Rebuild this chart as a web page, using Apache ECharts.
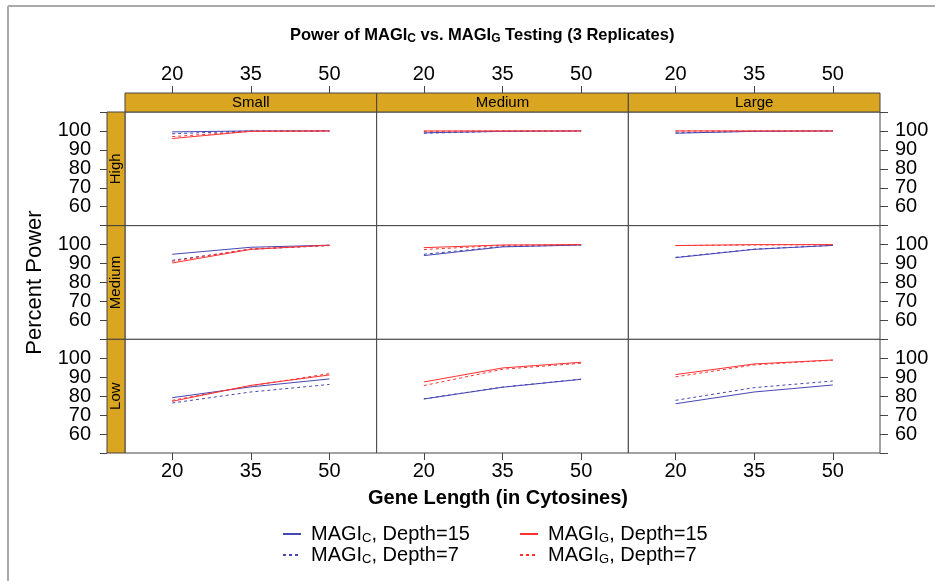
<!DOCTYPE html>
<html>
<head>
<meta charset="utf-8">
<script src="https://cdn.jsdelivr.net/npm/echarts@6/dist/echarts.min.js"></script>
<style>
  html, body { margin: 0; padding: 0; background: #fff; }
  #chart { width: 935px; height: 581px; }
</style>
</head>
<body>
<div id="chart"></div>
<script>
// gene length (x), panel columns (coverage) and rows (methylation level)
var lengths = [20, 35, 50];
var colNames = ['Small', 'Medium', 'Large'];
var rowNames = ['High', 'Medium', 'Low'];
var yTicks = [60, 70, 80, 90, 100];

// percent power, [row][col][length]  rows: High, Medium, Low  cols: Small, Medium, Large
var magiC15 = [
  [[99.5, 100, 100], [99.0, 99.8, 100], [98.8, 99.8, 100]],
  [[94.9, 98.6, 99.7], [94.2, 98.8, 99.8], [93.1, 97.5, 99.6]],
  [[79.2, 84.9, 89.1], [78.5, 84.7, 88.9], [76.0, 82.2, 85.9]]
];
var magiC7 = [
  [[98.5, 100, 100], [98.8, 99.8, 100], [99.0, 99.8, 100]],
  [[91.7, 97.5, 99.5], [94.9, 99.0, 99.8], [93.3, 97.6, 99.6]],
  [[76.4, 82.2, 86.2], [78.6, 84.8, 89.0], [77.8, 84.5, 88.0]]
];
var magiG15 = [
  [[96.0, 99.8, 100], [100, 100, 100], [100, 100, 100]],
  [[90.3, 97.5, 99.7], [98.4, 99.8, 100], [99.5, 100, 100]],
  [[77.3, 85.7, 91.2], [87.5, 94.9, 97.9], [91.4, 97.0, 99.1]]
];
var magiG7 = [
  [[97.0, 99.8, 100], [99.8, 100, 100], [100, 100, 100]],
  [[91.2, 97.8, 99.6], [97.4, 99.6, 100], [99.5, 99.8, 100]],
  [[77.8, 85.5, 91.9], [85.6, 94.2, 97.4], [90.2, 96.5, 99.0]]
];

var groups = [
  { key: 'c15', sub: 'C', depth: 15, color: '#4646b4', dash: 'solid', vals: magiC15 },
  { key: 'c7',  sub: 'C', depth: 7,  color: '#4646b4', dash: [3, 3],  vals: magiC7 },
  { key: 'g15', sub: 'G', depth: 15, color: '#ff3030', dash: 'solid', vals: magiG15 },
  { key: 'g7',  sub: 'G', depth: 7,  color: '#ff3030', dash: [3, 3],  vals: magiG7 }
];

var FONT = '"Liberation Sans", Arial, sans-serif';
var panelL = 125, panelR = 880, panelT = 112, panelB = 453;
var colW = (panelR - panelL) / 3, rowH = (panelB - panelT) / 3;
var stripH = 19, stripW = 18;

var chart = echarts.init(document.getElementById('chart'));

var grids = [], xAxes = [], yAxes = [], series = [], graphics = [];
var numStyle = { fontSize: 20, color: '#000', fontFamily: FONT };

for (var r = 0; r < 3; r++) {
  for (var c = 0; c < 3; c++) {
    var k = r * 3 + c;
    grids.push({
      left: panelL + c * colW, top: panelT + r * rowH,
      width: colW, height: rowH,
      show: true, borderColor: '#444', borderWidth: 1, backgroundColor: '#fff'
    });

    var xa = {
      gridIndex: k, type: 'value', min: 11, max: 59,
      axisLine: { show: false }, splitLine: { show: false },
      axisTick: { show: false }, axisLabel: { show: false }
    };
    if (r === 0 || r === 2) {
      xa.position = r === 0 ? 'top' : 'bottom';
      xa.offset = r === 0 ? stripH : 0;
      xa.axisTick = { show: true, length: 7, customValues: lengths, lineStyle: { color: '#444' } };
      xa.axisLabel = Object.assign({
        show: true, margin: r === 0 ? 9 : 8, customValues: lengths,
        showMinLabel: true, showMaxLabel: true, hideOverlap: false
      }, numStyle);
    }
    if (r === 2 && c === 1) {
      xa.name = 'Gene Length (in Cytosines)';
      xa.nameLocation = 'middle';
      xa.nameGap = 35;
      xa.nameTextStyle = { fontSize: 20, fontWeight: 'bold', color: '#000', fontFamily: FONT, padding: [0, 9, 0, 0] };
    }
    xAxes.push(xa);

    var ya = {
      gridIndex: k, type: 'value', min: 50, max: 110, interval: 10,
      axisLine: { show: false }, splitLine: { show: false },
      axisTick: { show: false }, axisLabel: { show: false }
    };
    if (c === 0 || c === 2) {
      ya.position = c === 0 ? 'left' : 'right';
      ya.offset = c === 0 ? stripW : 0;
      ya.axisTick = { show: true, length: c === 0 ? 7 : 8, lineStyle: { color: '#444' } };
      ya.axisLabel = Object.assign({
        show: true, margin: c === 0 ? 16 : 15,
        showMinLabel: true, showMaxLabel: true, hideOverlap: false,
        formatter: function (v) { return yTicks.indexOf(v) >= 0 ? String(v) : ''; }
      }, numStyle);
    }
    if (c === 0 && r === 1) {
      ya.name = 'Percent Power';
      ya.nameLocation = 'middle';
      ya.nameGap = 61;
      ya.nameRotate = 90;
      ya.nameTextStyle = { fontSize: 22, color: '#000', fontFamily: FONT };
    }
    yAxes.push(ya);

    groups.forEach(function (g) {
      series.push({
        type: 'line', name: g.key, xAxisIndex: k, yAxisIndex: k,
        data: lengths.map(function (x, i) { return [x, g.vals[r][c][i]]; }),
        symbol: 'none', silent: true,
        lineStyle: { color: g.color, width: 1, type: g.dash },
        itemStyle: { color: g.color }
      });
    });
  }
}

// strips
colNames.forEach(function (name, c) {
  graphics.push({
    type: 'rect', z: 10,
    shape: { x: panelL + c * colW, y: panelT - stripH, width: colW, height: stripH },
    style: { fill: '#DAA520', stroke: '#444', lineWidth: 1 }
  });
  graphics.push({
    type: 'text', z: 11,
    x: panelL + c * colW + colW / 2, y: panelT - stripH / 2,
    style: { text: name, fontSize: 15, fontFamily: FONT, fill: '#000', align: 'center', verticalAlign: 'middle' }
  });
});
rowNames.forEach(function (name, r) {
  graphics.push({
    type: 'rect', z: 10,
    shape: { x: panelL - stripW, y: panelT + r * rowH, width: stripW, height: rowH },
    style: { fill: '#DAA520', stroke: '#444', lineWidth: 1 }
  });
  graphics.push({
    type: 'text', z: 11, rotation: Math.PI / 2,
    x: panelL - stripW / 2, y: panelT + r * rowH + rowH / 2,
    style: { text: name, fontSize: 15, fontFamily: FONT, fill: '#000', align: 'center', verticalAlign: 'middle' }
  });
});
// outer frame lines of the source image
graphics.push({ type: 'line', shape: { x1: 8, y1: 6, x2: 935, y2: 6 }, style: { stroke: '#aaa', lineWidth: 2 } });
graphics.push({ type: 'line', shape: { x1: 8, y1: 6, x2: 8, y2: 581 }, style: { stroke: '#aaa', lineWidth: 2 } });

var legendRich = {
  m: { fontSize: 20, color: '#000', fontFamily: FONT },
  s: { fontSize: 13, color: '#000', fontFamily: FONT, padding: [9, 0, 0, 0] }
};
function legendFmt(name) {
  var g = groups.filter(function (d) { return d.key === name; })[0];
  return '{m|MAGI}{s|' + g.sub + '}{m|, Depth=' + g.depth + '}';
}
function makeLegend(keys, left) {
  return {
    data: keys, orient: 'vertical', left: left, top: 519,
    itemGap: 0, itemWidth: 18, itemHeight: 10, selectedMode: false,
    itemStyle: { opacity: 0 },
    formatter: legendFmt,
    textStyle: { rich: legendRich, padding: [0, 0, 0, 5] }
  };
}

chart.setOption({
  animation: false,
  backgroundColor: '#fff',
  title: {
    text: '{b|Power of MAGI}{s|C}{b| vs. MAGI}{s|G}{b| Testing (3 Replicates)}',
    left: 285, top: 20,
    textStyle: {
      rich: {
        b: { fontSize: 16.5, fontWeight: 'bold', color: '#000', fontFamily: FONT },
        s: { fontSize: 12, color: '#000', fontFamily: FONT, padding: [8, 0, 0, 0] }
      }
    }
  },
  legend: [makeLegend(['c15', 'c7'], 277), makeLegend(['g15', 'g7'], 514)],
  grid: grids,
  xAxis: xAxes,
  yAxis: yAxes,
  series: series,
  graphic: graphics
});
</script>
</body>
</html>
